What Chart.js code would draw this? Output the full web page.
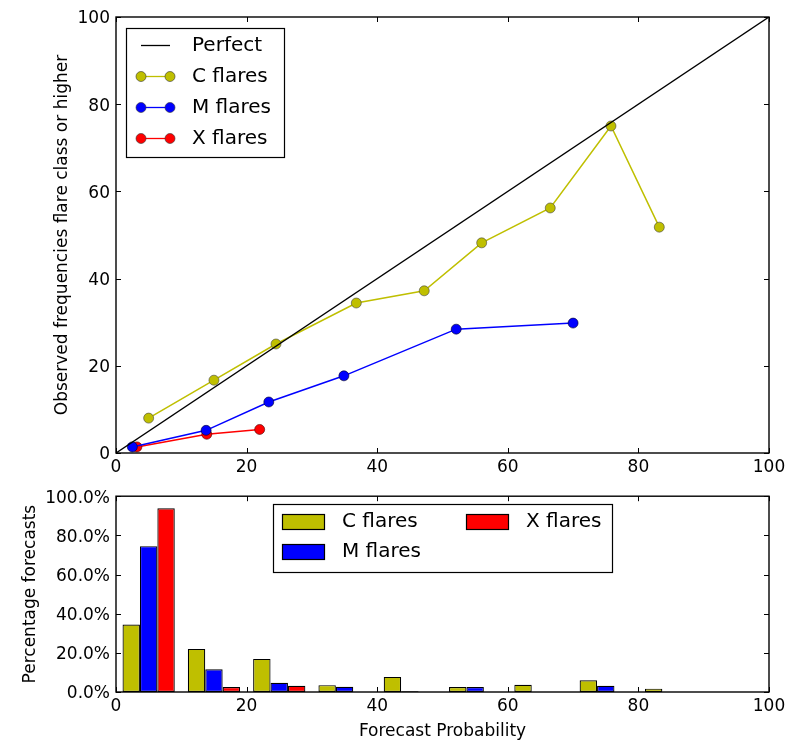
<!DOCTYPE html>
<html><head><meta charset="utf-8">
<script src="https://cdn.jsdelivr.net/npm/chart.js@4"></script>
<style>
html,body{margin:0;padding:0;background:#fff;}
#wrap{position:relative;width:802px;height:742px;overflow:hidden;}
#c1{position:absolute;left:0;top:0;}
#c2{position:absolute;left:0;top:480px;}
</style></head><body>
<div id="wrap">
<canvas id="c1" width="802" height="480"></canvas>
<canvas id="c2" width="802" height="262"></canvas>
</div>
<script>
// ---- data ----
const perfectX = [0, 100];
const perfectY = [0, 100];
const cX = [5.0, 15.0, 24.5, 36.8, 47.2, 56.0, 66.5, 75.8, 83.2];
const cY = [8.0, 16.7, 25.0, 34.4, 37.2, 48.2, 56.2, 75.0, 51.8];
const mX = [2.5, 13.8, 23.4, 34.9, 52.1, 70.0];
const mY = [1.4, 5.2, 11.7, 17.7, 28.4, 29.8];
const xX = [3.2, 13.9, 22.0];
const xY = [1.4, 4.3, 5.4];

const binCenters = [5, 15, 25, 35, 45, 55, 65, 75, 85, 95];
const histC = [34.5, 22.0, 16.9, 3.5, 7.7, 2.5, 3.7, 6.0, 1.7, null];
const histM = [74.5, 11.6, 4.7, 2.7, 0.4, 2.5, null, 3.2, null, null];
const histX = [93.8, 2.5, 3.2, null, null, null, null, null, null, null];

const axisTicks = [0, 20, 40, 60, 80, 100];
const labels = ['Perfect', 'C flares', 'M flares', 'X flares'];

const COL_C = '#bfbf00', COL_M = '#0000ff', COL_X = '#ff0000';
const FONT = "'DejaVu Sans', 'Liberation Sans', sans-serif";

const zip = (xs, ys) => xs.map((x, i) => ({x: x, y: ys[i]}));

Chart.defaults.font.family = FONT;
Chart.defaults.color = '#000';

// frame + inward ticks on all sides
const frameTicks = {
  id: 'frameTicks',
  afterDraw(chart) {
    const {ctx, chartArea: a, scales} = chart;
    const sx = scales.x, sy = scales.y;
    ctx.save();
    ctx.strokeStyle = '#000';
    ctx.lineWidth = 1;
    ctx.beginPath();
    sx.ticks.forEach(t => {
      const p = Math.round(sx.getPixelForValue(t.value)) + 0.5;
      ctx.moveTo(p, a.bottom); ctx.lineTo(p, a.bottom - 5);
      ctx.moveTo(p, a.top); ctx.lineTo(p, a.top + 5);
    });
    sy.ticks.forEach(t => {
      const p = Math.round(sy.getPixelForValue(t.value)) + 0.5;
      ctx.moveTo(a.left, p); ctx.lineTo(a.left + 5, p);
      ctx.moveTo(a.right, p); ctx.lineTo(a.right - 5, p);
    });
    ctx.stroke();
    ctx.lineWidth = 1.4;
    ctx.strokeRect(a.left, a.top, a.right - a.left, a.bottom - a.top);
    ctx.restore();
  }
};

// top legend
const lineLegend = {
  id: 'lineLegend',
  afterDraw(chart) {
    const ctx = chart.ctx;
    ctx.save();
    ctx.fillStyle = '#fff';
    ctx.fillRect(126, 28, 158, 129);
    ctx.strokeStyle = '#000';
    ctx.lineWidth = 1.2;
    ctx.strokeRect(126.5, 28.5, 158, 129);
    ctx.font = "20px " + FONT;
    ctx.textBaseline = 'middle';
    ctx.textAlign = 'left';
    const rows = [45, 76, 107, 138];
    chart.data.datasets.forEach((ds, i) => {
      const y = rows[i];
      ctx.strokeStyle = ds.borderColor;
      ctx.lineWidth = 1.3;
      ctx.beginPath(); ctx.moveTo(141, y + 0.5); ctx.lineTo(170, y + 0.5); ctx.stroke();
      if (ds.pointRadius > 0) {
        [141, 170].forEach(px => {
          ctx.beginPath(); ctx.arc(px, y + 0.5, 5, 0, Math.PI * 2);
          ctx.fillStyle = ds.pointBackgroundColor; ctx.fill();
          ctx.strokeStyle = '#333'; ctx.lineWidth = 0.6; ctx.stroke();
        });
      }
      ctx.fillStyle = '#000';
      ctx.fillText(ds.label, 192, y + 1);
    });
    ctx.restore();
  }
};

// bottom legend
const barLegend = {
  id: 'barLegend',
  afterDraw(chart) {
    const ctx = chart.ctx;
    ctx.save();
    ctx.fillStyle = '#fff';
    ctx.fillRect(273, 24, 339, 68);
    ctx.strokeStyle = '#000';
    ctx.lineWidth = 1.2;
    ctx.strokeRect(273.5, 24.5, 339, 68);
    ctx.font = "20px " + FONT;
    ctx.textBaseline = 'middle';
    const pos = [[282, 41], [282, 71], [466, 41]];
    chart.data.datasets.forEach((ds, i) => {
      const [px, py] = pos[i];
      ctx.fillStyle = ds.backgroundColor;
      ctx.fillRect(px, py - 7, 42, 15);
      ctx.strokeStyle = '#000'; ctx.lineWidth = 1.2;
      ctx.strokeRect(px + 0.5, py - 6.5, 42, 15);
      ctx.fillStyle = '#000';
      ctx.fillText(ds.label, px + 60, py + 1);
    });
    ctx.restore();
  }
};

const tickFont = {family: FONT, size: 17};
const titleFont = {family: FONT, size: 17};
const noGrid = {display: false, drawTicks: false};

new Chart(document.getElementById('c1'), {
  type: 'scatter',
  data: {
    datasets: [
      {label: labels[0], data: zip(perfectX, perfectY), showLine: true, borderColor: '#000', backgroundColor: '#000', borderWidth: 1.4, pointRadius: 0, pointBackgroundColor: '#000'},
      {label: labels[1], data: zip(cX, cY), showLine: true, borderColor: COL_C, borderWidth: 1.5, pointRadius: 5, pointBackgroundColor: COL_C, pointBorderColor: '#444', pointBorderWidth: 0.6, clip: false},
      {label: labels[2], data: zip(mX, mY), showLine: true, borderColor: COL_M, borderWidth: 1.5, pointRadius: 5, pointBackgroundColor: COL_M, pointBorderColor: '#002', pointBorderWidth: 0.6, clip: false},
      {label: labels[3], data: zip(xX, xY), showLine: true, borderColor: COL_X, borderWidth: 1.5, pointRadius: 5, pointBackgroundColor: COL_X, pointBorderColor: '#400', pointBorderWidth: 0.6, clip: false}
    ]
  },
  options: {
    responsive: false, animation: false, devicePixelRatio: 1,
    layout: {padding: {top: 17, right: 33, left: 0, bottom: 0}},
    plugins: {legend: {display: false}, tooltip: {enabled: false}},
    scales: {
      x: {type: 'linear', min: 0, max: 100,
          afterBuildTicks: s => { s.ticks = axisTicks.map(v => ({value: v})); },
          grid: noGrid, border: {display: false},
          ticks: {font: tickFont, color: '#000', padding: 4, maxRotation: 0},
          afterFit: s => { s.height = 27; }},
      y: {type: 'linear', min: 0, max: 100,
          afterBuildTicks: s => { s.ticks = axisTicks.map(v => ({value: v})); },
          grid: noGrid, border: {display: false},
          ticks: {font: tickFont, color: '#000', padding: 6, labelOffset: 2},
          title: {display: true, text: 'Observed frequencies flare class or higher', font: titleFont, color: '#000', padding: {top: 52, bottom: 0}},
          afterFit: s => { s.width = 116; }}
    }
  },
  plugins: [frameTicks, lineLegend]
});

new Chart(document.getElementById('c2'), {
  type: 'bar',
  data: {
    datasets: [
      {label: 'C flares', data: zip(binCenters, histC), backgroundColor: COL_C, borderColor: '#000', borderWidth: 1.2, borderSkipped: false},
      {label: 'M flares', data: zip(binCenters, histM), backgroundColor: COL_M, borderColor: '#000', borderWidth: 1.2, borderSkipped: false},
      {label: 'X flares', data: zip(binCenters, histX), backgroundColor: COL_X, borderColor: '#000', borderWidth: 1.2, borderSkipped: false}
    ]
  },
  options: {
    responsive: false, animation: false, devicePixelRatio: 1,
    layout: {padding: {top: 13, right: 33, left: 0, bottom: 0}},
    plugins: {legend: {display: false}, tooltip: {enabled: false}},
    datasets: {bar: {categoryPercentage: 0.8, barPercentage: 1.0}},
    scales: {
      x: {type: 'linear', min: 0, max: 100, offset: false,
          afterBuildTicks: s => { s.ticks = axisTicks.map(v => ({value: v})); },
          grid: noGrid, border: {display: false},
          ticks: {font: tickFont, color: '#000', padding: 4, maxRotation: 0},
          title: {display: true, text: 'Forecast Probability', font: titleFont, color: '#000', padding: {top: 0, bottom: 0}},
          afterFit: s => { s.height = 50; }},
      y: {type: 'linear', min: 0, max: 100,
          afterBuildTicks: s => { s.ticks = axisTicks.map(v => ({value: v})); },
          grid: noGrid, border: {display: false},
          ticks: {font: tickFont, color: '#000', padding: 6, labelOffset: 2, callback: v => v.toFixed(1) + '%'},
          title: {display: true, text: 'Percentage forecasts', font: titleFont, color: '#000', padding: {top: 20, bottom: 0}},
          afterFit: s => { s.width = 116; }}
    }
  },
  plugins: [frameTicks, barLegend]
});
</script>
</body></html>
